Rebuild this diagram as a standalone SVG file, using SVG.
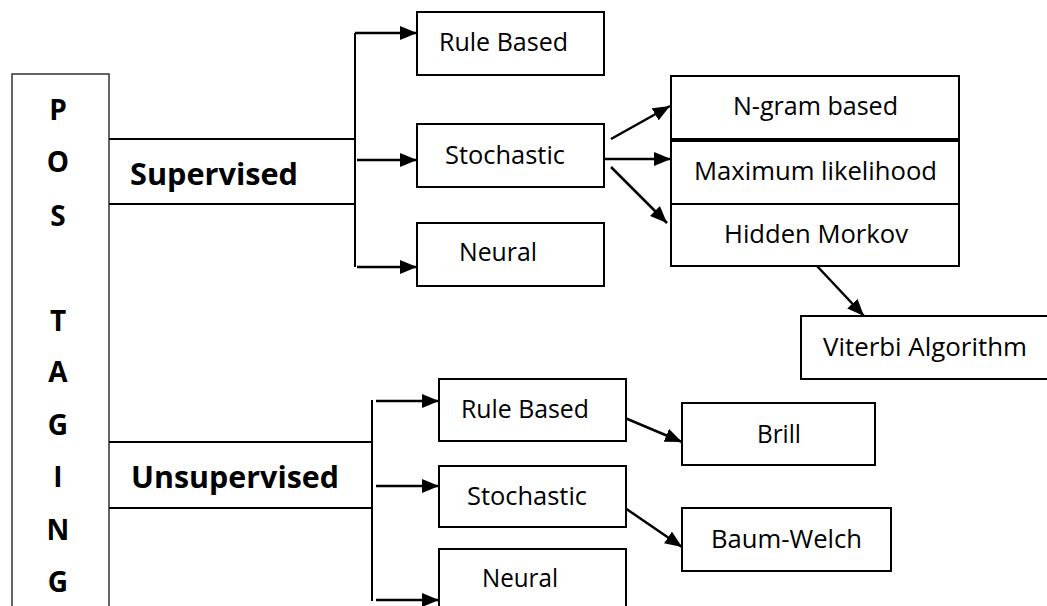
<svg xmlns="http://www.w3.org/2000/svg" width="1047" height="606" viewBox="0 0 1047 606">
<style>
.box{fill:#fff;stroke:#000;stroke-width:2}
.t{font-family:"Open Sans","Noto Sans",sans-serif;font-size:25px;fill:#000}
.b{font-family:"Open Sans","Noto Sans",sans-serif;font-weight:bold;fill:#000}
.ln{fill:none;stroke:#000;stroke-width:2}
.ar{fill:none;stroke:#000;stroke-width:2.5;marker-end:url(#ah)}
</style>
<defs>
<marker id="ah" markerUnits="userSpaceOnUse" markerWidth="17" markerHeight="14" refX="17" refY="7" orient="auto">
<path d="M0,0 L17,7 L0,14 z" fill="#000"/>
</marker>
</defs>
<rect width="1047" height="606" fill="#fff"/>
<g id="pos">
<path d="M12,610 V74 H109 V610" fill="none" stroke="#333" stroke-width="1.5"/>
<g class="b" font-size="28" text-anchor="middle">
<text x="58" y="120">P</text>
<text x="58" y="172">O</text>
<text x="58" y="226">S</text>
<text x="58" y="331">T</text>
<text x="58" y="382">A</text>
<text x="58" y="435">G</text>
<text x="58" y="487">I</text>
<text x="58" y="540">N</text>
<text x="58" y="592">G</text>
</g>
</g>
<g id="supervised">
<path class="ln" d="M109,139 H355 M109,204 H355"/>
<text class="b" font-size="31" x="130" y="185" textLength="168" lengthAdjust="spacingAndGlyphs">Supervised</text>
</g>
<g id="unsupervised">
<path class="ln" d="M109,442 H372 M109,508 H372"/>
<text class="b" font-size="31" x="131" y="488" textLength="208" lengthAdjust="spacingAndGlyphs">Unsupervised</text>
</g>
<g id="connectors">
<path class="ln" d="M355,33 V267"/>
<path class="ar" d="M355,33 H417"/>
<path class="ar" d="M357,160 H417"/>
<path class="ar" d="M357,267 H417"/>
<path class="ar" d="M611,139 L670,106"/>
<path class="ar" d="M604,159 H671"/>
<path class="ar" d="M611,167 L667,223"/>
<path class="ar" d="M817,266 L864,316"/>
<path class="ln" d="M372,400 V601"/>
<path class="ar" d="M376,401 H439"/>
<path class="ar" d="M376,486 H439"/>
<path class="ar" d="M376,600 H439"/>
<path class="ar" d="M625,418 L682,442"/>
<path class="ar" d="M625,508 L682,547"/>
</g>
<g id="sup-rule">
<rect class="box" x="417" y="12" width="187" height="63"/>
<text class="t" x="439" y="51" textLength="129" lengthAdjust="spacingAndGlyphs">Rule Based</text>
</g>
<g id="sup-stochastic">
<rect class="box" x="417" y="124" width="187" height="63"/>
<text class="t" x="445" y="164" textLength="120" lengthAdjust="spacingAndGlyphs">Stochastic</text>
</g>
<g id="sup-neural">
<rect class="box" x="417" y="223" width="187" height="63"/>
<text class="t" x="459" y="261" textLength="78" lengthAdjust="spacingAndGlyphs">Neural</text>
</g>
<g id="ngram">
<rect class="box" x="671" y="76" width="288" height="63"/>
<text class="t" x="733" y="115" textLength="165" lengthAdjust="spacingAndGlyphs">N-gram based</text>
</g>
<g id="maxlik">
<rect class="box" x="671" y="141" width="288" height="63"/>
<text class="t" x="694" y="180" textLength="243" lengthAdjust="spacingAndGlyphs">Maximum likelihood</text>
</g>
<g id="hidden">
<rect class="box" x="671" y="204" width="288" height="62"/>
<text class="t" x="724" y="243" textLength="184" lengthAdjust="spacingAndGlyphs">Hidden Morkov</text>
</g>
<g id="viterbi">
<rect class="box" x="801" y="316" width="260" height="63"/>
<text class="t" x="823" y="356" textLength="204" lengthAdjust="spacingAndGlyphs">Viterbi Algorithm</text>
</g>
<g id="uns-rule">
<rect class="box" x="439" y="379" width="187" height="62"/>
<text class="t" x="461" y="418" textLength="128" lengthAdjust="spacingAndGlyphs">Rule Based</text>
</g>
<g id="uns-stochastic">
<rect class="box" x="439" y="466" width="187" height="61"/>
<text class="t" x="467" y="505" textLength="120" lengthAdjust="spacingAndGlyphs">Stochastic</text>
</g>
<g id="uns-neural">
<rect class="box" x="439" y="549" width="187" height="70"/>
<text class="t" x="482" y="587" textLength="76" lengthAdjust="spacingAndGlyphs">Neural</text>
</g>
<g id="brill">
<rect class="box" x="682" y="403" width="193" height="62"/>
<text class="t" x="757" y="443" textLength="44" lengthAdjust="spacingAndGlyphs">Brill</text>
</g>
<g id="baumwelch">
<rect class="box" x="682" y="508" width="209" height="63"/>
<text class="t" x="711" y="548" textLength="151" lengthAdjust="spacingAndGlyphs">Baum-Welch</text>
</g>
</svg>
